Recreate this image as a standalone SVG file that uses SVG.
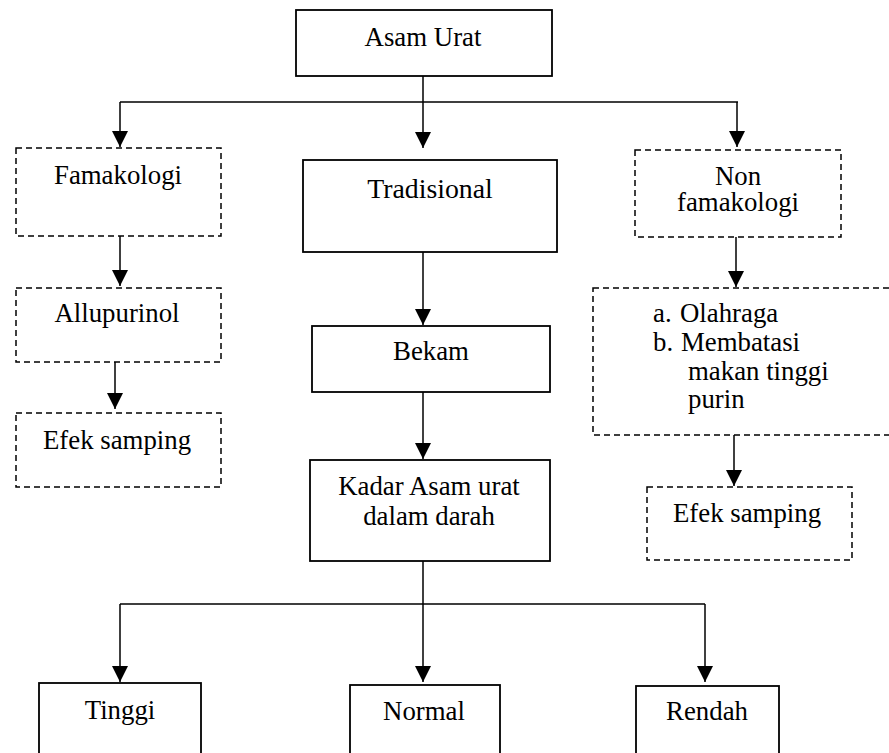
<svg xmlns="http://www.w3.org/2000/svg" width="889" height="753" viewBox="0 0 889 753" font-family="'Liberation Serif', 'DejaVu Serif', serif">
<style>
.box{fill:#fff;stroke:#000;stroke-width:1.8}
.dash{fill:#fff;stroke:#000;stroke-width:1.5;stroke-dasharray:6 4}
text{font-family:'Liberation Serif','DejaVu Serif',serif;font-size:26.8px;fill:#000}
.c{text-anchor:middle}
.ln{fill:none;stroke:#000;stroke-width:1.5}
.ar{fill:none;stroke:#000;stroke-width:1.5;marker-end:url(#arr)}
</style>
<defs>
<marker id="arr" markerUnits="userSpaceOnUse" markerWidth="16" markerHeight="16" viewBox="0 0 14 14" refX="14" refY="7" orient="auto">
<path d="M0,0 L14,7 L0,14 Z" fill="#000"/>
</marker>
</defs>
<g id="connectors">
<path class="ln" d="M423,76 V102 M120,102 H738"/>
<path class="ar" d="M120,102 V147"/>
<path class="ar" d="M423,102 V148"/>
<path class="ar" d="M737,102 V147"/>
<path class="ar" d="M120,236 V286"/>
<path class="ar" d="M115,362 V409"/>
<path class="ar" d="M423,252 V325"/>
<path class="ar" d="M423,392 V459"/>
<path class="ar" d="M736,237 V287"/>
<path class="ar" d="M734,435 V486"/>
<path class="ln" d="M423,561 V604 M120,604 H705"/>
<path class="ar" d="M120,604 V682"/>
<path class="ar" d="M423,604 V682"/>
<path class="ar" d="M705,604 V682"/>
</g>
<g id="asam-urat"><rect class="box" x="296" y="10" width="256" height="66"/><text class="c" x="423" y="46">Asam Urat</text></g>
<g id="famakologi"><rect class="dash" x="16" y="148" width="205" height="88"/><text class="c" x="118" y="184">Famakologi</text></g>
<g id="tradisional"><rect class="box" x="303" y="160" width="254" height="92"/><text class="c" x="430" y="198" style="font-size:27.8px">Tradisional</text></g>
<g id="non-famakologi"><rect class="dash" x="635" y="150" width="206" height="87"/><text class="c"><tspan x="738" y="185">Non</tspan><tspan x="738" y="211">famakologi</tspan></text></g>
<g id="allupurinol"><rect class="dash" x="16" y="288" width="205" height="74"/><text class="c" x="117" y="322">Allupurinol</text></g>
<g id="efek-samping-1"><rect class="dash" x="16" y="413" width="205" height="74"/><text class="c" x="117" y="449">Efek samping</text></g>
<g id="bekam"><rect class="box" x="312" y="326" width="238" height="66"/><text class="c" x="431" y="360">Bekam</text></g>
<g id="non-farmako-list"><rect class="dash" x="593" y="288" width="310" height="147"/>
<text><tspan x="653" y="322">a.</tspan><tspan x="680" y="322">Olahraga</tspan><tspan x="653" y="351">b.</tspan><tspan x="681" y="351">Membatasi</tspan><tspan x="688" y="380">makan tinggi</tspan><tspan x="688" y="408">purin</tspan></text></g>
<g id="efek-samping-2"><rect class="dash" x="647" y="487" width="205" height="73"/><text class="c" x="747" y="522">Efek samping</text></g>
<g id="kadar"><rect class="box" x="310" y="460" width="240" height="101"/><text class="c"><tspan x="429" y="495">Kadar Asam urat</tspan><tspan x="429" y="525">dalam darah</tspan></text></g>
<g id="tinggi"><rect class="box" x="39" y="683" width="162" height="90"/><text class="c" x="120" y="719">Tinggi</text></g>
<g id="normal"><rect class="box" x="350" y="685" width="150" height="90"/><text class="c" x="424" y="720">Normal</text></g>
<g id="rendah"><rect class="box" x="636" y="686" width="143" height="90"/><text class="c" x="707" y="720">Rendah</text></g>
</svg>
